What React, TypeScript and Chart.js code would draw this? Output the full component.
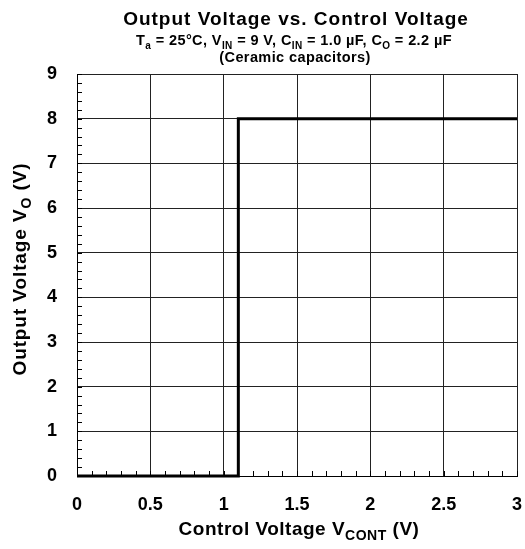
import React, { useEffect, useRef } from "react";
import { Chart, registerables } from "chart.js";

Chart.register(...registerables);

const controlVoltage = [0, 1.1, 1.1, 3];
const outputVoltage = [0, 0, 8, 8];
const xTicks = [0, 0.5, 1, 1.5, 2, 2.5, 3];
const yTicks = [0, 1, 2, 3, 4, 5, 6, 7, 8, 9];
const xMinorStep = 0.1;
const yMinorStep = 0.2;

const FONT = '"Liberation Sans", Arial, Helvetica, sans-serif';

type Seg = { t: string; sub?: boolean };

function drawRich(
  ctx: CanvasRenderingContext2D,
  segs: Seg[],
  cx: number,
  cy: number,
  size: number,
  spacing: number,
  rot = 0
) {
  const subSize = Math.round(size * 0.72);
  ctx.save();
  ctx.translate(cx, cy);
  ctx.rotate(rot);
  ctx.textBaseline = "alphabetic";
  ctx.textAlign = "left";
  ctx.fillStyle = "#000";
  (ctx as any).letterSpacing = `${spacing}px`;
  let total = 0;
  const widths = segs.map((s) => {
    ctx.font = `bold ${s.sub ? subSize : size}px ${FONT}`;
    const w = ctx.measureText(s.t).width;
    total += w;
    return w;
  });
  let x = -total / 2;
  segs.forEach((s, i) => {
    ctx.font = `bold ${s.sub ? subSize : size}px ${FONT}`;
    ctx.fillText(s.t, x, s.sub ? size * 0.27 : 0);
    x += widths[i];
  });
  ctx.restore();
}

const textPlugin = {
  id: "richText",
  afterDraw(chart: any) {
    const ctx: CanvasRenderingContext2D = chart.ctx;
    const area = chart.chartArea;
    const xs = chart.scales.x;
    const ys = chart.scales.y;
    // minor ticks
    ctx.save();
    ctx.strokeStyle = "#000";
    ctx.lineWidth = 1;
    ctx.beginPath();
    for (let v = 0; v <= 9 + 1e-9; v += yMinorStep) {
      const py = Math.round(ys.getPixelForValue(v)) + 0.5;
      ctx.moveTo(area.left, py);
      ctx.lineTo(area.left + 5, py);
    }
    for (let v = 0; v <= 3 + 1e-9; v += xMinorStep) {
      const px = Math.round(xs.getPixelForValue(v)) + 0.5;
      ctx.moveTo(px, area.bottom);
      ctx.lineTo(px, area.bottom - 5);
    }
    ctx.stroke();
    ctx.restore();

    const cx = (area.left + area.right) / 2 - 1;
    drawRich(ctx, [{ t: "Output Voltage vs. Control Voltage" }], cx, 25, 19, 1);
    drawRich(
      ctx,
      [
        { t: "T" }, { t: "a", sub: true }, { t: " = 25°C, V" }, { t: "IN", sub: true },
        { t: " = 9 V, C" }, { t: "IN", sub: true }, { t: " = 1.0 µF, C" }, { t: "O", sub: true },
        { t: " = 2.2 µF" },
      ],
      cx - 2, 45, 14.5, 0.4
    );
    drawRich(ctx, [{ t: "(Ceramic capacitors)" }], cx - 1, 62, 14.5, 0.4);
    drawRich(
      ctx,
      [{ t: "Control Voltage V" }, { t: "CONT", sub: true }, { t: " (V)" }],
      cx + 3, 535, 19, 0.5
    );
    drawRich(
      ctx,
      [{ t: "Output Voltage V" }, { t: "O", sub: true }, { t: " (V)" }],
      26, 269, 19, 0.9, -Math.PI / 2
    );
  },
};

export default function App() {
  const ref = useRef<HTMLCanvasElement>(null);
  useEffect(() => {
    if (!ref.current) return;
    const chart = new Chart(ref.current, {
      type: "scatter",
      data: {
        datasets: [
          {
            data: controlVoltage.map((x, i) => ({ x, y: outputVoltage[i] })),
            showLine: true,
            borderColor: "#000",
            borderWidth: 3,
            pointRadius: 0,
            fill: false,
            tension: 0,
            clip: false as any,
          },
        ],
      },
      options: {
        animation: false,
        responsive: false,
        devicePixelRatio: 1,
        layout: { padding: { top: 74, right: 8, left: 0, bottom: 0 } },
        plugins: { legend: { display: false }, tooltip: { enabled: false }, title: { display: false } },
        scales: {
          x: {
            type: "linear",
            min: 0,
            max: 3,
            afterFit: (s: any) => {
              s.height = 73;
              s.paddingLeft = 0;
              s.paddingRight = 0;
            },
            afterBuildTicks: (s: any) => { s.ticks = xTicks.map((v) => ({ value: v })); },
            ticks: {
              padding: 18,
              color: "#000",
              font: { family: FONT, size: 18, weight: "bold" },
              maxRotation: 0,
              autoSkip: false,
              callback: (v: any) => String(v),
            },
            grid: { color: "#222", lineWidth: 1, drawTicks: false },
            border: { display: true, color: "#000", width: 1 },
          },
          y: {
            type: "linear",
            min: 0,
            max: 9,
            afterFit: (s: any) => {
              s.width = 77;
              s.paddingTop = 0;
              s.paddingBottom = 0;
            },
            afterBuildTicks: (s: any) => { s.ticks = yTicks.map((v) => ({ value: v })); },
            ticks: {
              padding: 20,
              color: "#000",
              font: { family: FONT, size: 18, weight: "bold" },
              autoSkip: false,
              callback: (v: any) => String(v),
            },
            grid: { color: "#222", lineWidth: 1, drawTicks: false },
            border: { display: true, color: "#000", width: 1 },
          },
        },
      } as any,
      plugins: [textPlugin],
    });
    return () => chart.destroy();
  }, []);
  return (
    <div style={{ position: "fixed", left: 0, top: 0, width: 525, height: 549, background: "#fff" }}>
      <canvas ref={ref} width={525} height={549} style={{ width: 525, height: 549 }} />
    </div>
  );
}
